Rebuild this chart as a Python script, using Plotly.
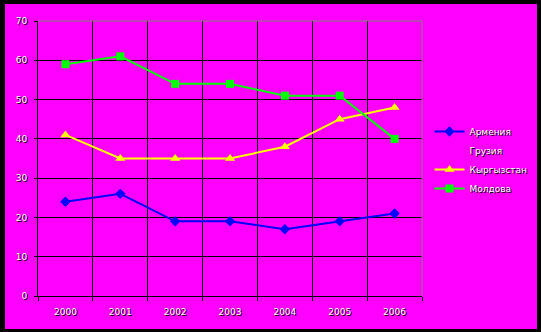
import plotly.graph_objects as go

years = ["2000", "2001", "2002", "2003", "2004", "2005", "2006"]
armenia = [24, 26, 19, 19, 17, 19, 21]
georgia = [None, None, None, None, None, None, None]
kyrgyzstan = [41, 35, 35, 35, 38, 45, 48]
moldova = [59, 61, 54, 54, 51, 51, 40]

W, H = 541, 332
ML, MR, MT, MB = 38, 119, 21, 36
PW, PH = W - ML - MR, H - MT - MB

FONT = dict(family="DejaVu Sans, Liberation Sans, Arial", size=9, color="white",
            shadow="1px 1px 0px #000000")

fig = go.Figure()
fig.add_trace(go.Scatter(x=years, y=armenia, name="Армения", mode="lines+markers",
                         line=dict(color="#0000FF", width=2),
                         marker=dict(symbol="diamond", size=8, color="#0000FF")))
fig.add_trace(go.Scatter(x=years, y=georgia, name="Грузия", mode="lines",
                         line=dict(color="rgba(0,0,0,0)", width=2)))
fig.add_trace(go.Scatter(x=years, y=kyrgyzstan, name="Кыргызстан", mode="lines+markers",
                         line=dict(color="#FFFF00", width=2),
                         marker=dict(symbol="triangle-up", size=9, color="#FFFF00")))
fig.add_trace(go.Scatter(x=years, y=moldova, name="Молдова", mode="lines+markers",
                         line=dict(color="#00FF00", width=2),
                         marker=dict(symbol="square", size=8, color="#00FF00")))

def px2x(px):
    return (px - ML) / PW

def px2y(py):
    return (H - MB - py) / PH

shapes = [
    dict(type="rect", xref="paper", yref="paper", x0=px2x(5), x1=px2x(537),
         y0=px2y(329), y1=px2y(4), fillcolor="#FF00FF", line=dict(width=0),
         layer="below"),
    dict(type="line", xref="paper", yref="paper", x0=0, x1=1, y0=1, y1=1,
         line=dict(color="#808080", width=1), layer="above"),
    dict(type="line", xref="paper", yref="paper", x0=1, x1=1, y0=0, y1=1,
         line=dict(color="#808080", width=1), layer="above"),
]

fig.update_layout(
    width=W, height=H,
    margin=dict(l=ML, r=MR, t=MT, b=MB, autoexpand=False),
    paper_bgcolor="#000000",
    plot_bgcolor="#FF00FF",
    font=FONT,
    shapes=shapes,
    showlegend=True,
    legend=dict(x=px2x(429.5), y=px2y(117), xanchor="left", yanchor="top",
                bgcolor="rgba(0,0,0,0)", font=FONT, itemwidth=30,
                tracegroupgap=0),
    xaxis=dict(type="category", tickson="boundaries", showgrid=True,
               gridcolor="#000000", gridwidth=1, showline=True,
               linecolor="#000000", linewidth=1, ticks="outside",
               tickcolor="#000000", ticklen=4, range=[-0.5, 6.5],
               tickfont=FONT, automargin=False, ticklabelstandoff=7),
    yaxis=dict(range=[0, 70], dtick=10, showgrid=True, gridcolor="#000000",
               gridwidth=1, showline=True, linecolor="#000000", linewidth=1,
               ticks="outside", tickcolor="#000000", ticklen=3,
               zeroline=False, tickfont=FONT, ticklabelstandoff=5,
               automargin=False),
)

fig.write_html("out.html")
